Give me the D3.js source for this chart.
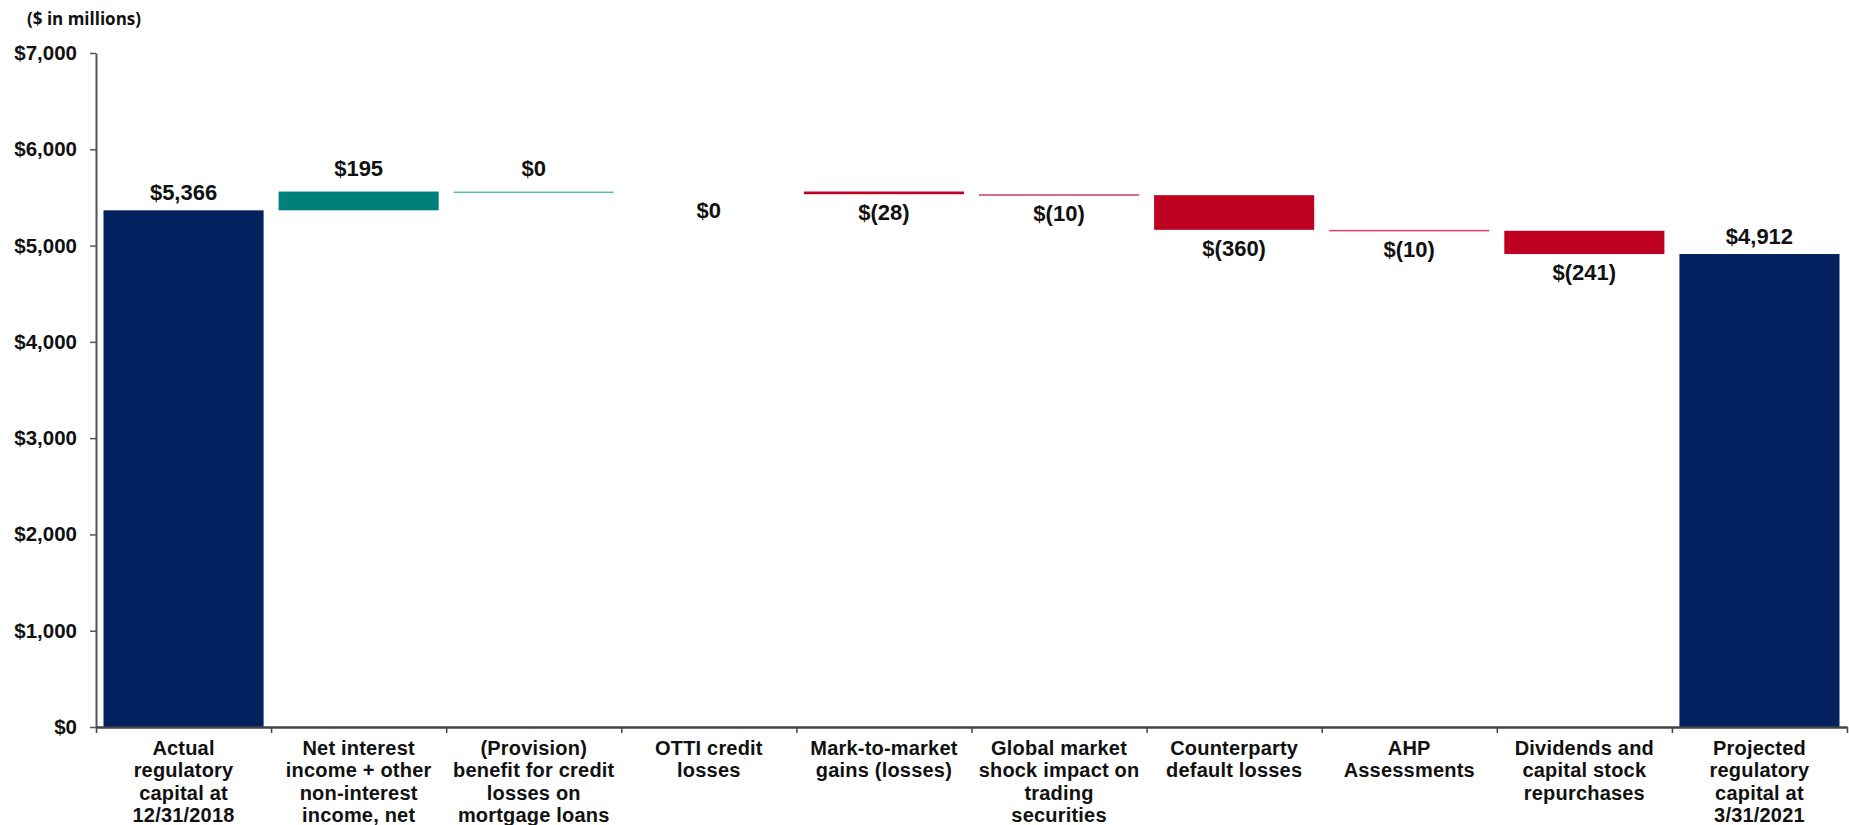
<!DOCTYPE html>
<html>
<head>
<meta charset="utf-8">
<script src="https://cdn.jsdelivr.net/npm/d3@7"></script>
<style>
  body { margin: 0; background: #fff; }
  text { font-family: "Liberation Sans", Arial, sans-serif; font-weight: bold; fill: #111; }
</style>
</head>
<body>
<div id="chart"></div>
<script>
// waterfall data ($ in millions)
var categories = [
    "Actual\nregulatory\ncapital at\n12/31/2018",
    "Net interest\nincome + other\nnon-interest\nincome, net",
    "(Provision)\nbenefit for credit\nlosses on\nmortgage loans",
    "OTTI credit\nlosses",
    "Mark-to-market\ngains (losses)",
    "Global market\nshock impact on\ntrading\nsecurities",
    "Counterparty\ndefault losses",
    "AHP\nAssessments",
    "Dividends and\ncapital stock\nrepurchases",
    "Projected\nregulatory\ncapital at\n3/31/2021"
];
var values = [5366, 195, 0.4, 0, -28, -10, -360, -10, -241, 4912];
var isTotal = [true, false, false, false, false, false, false, false, false, true];
var yTicks = [0, 1000, 2000, 3000, 4000, 5000, 6000, 7000];

var svgWidth = 1849;
var svgHeight = 825;

var svg = d3.select("#chart")
    .append("svg")
    .attr("width", svgWidth)
    .attr("height", svgHeight);

var x = d3.scaleBand()
    .domain(d3.range(categories.length))
    .range([96, 1847])
    .paddingInner(0.0857)
    .paddingOuter(0.0428);

var xEdges = d3.scaleLinear().domain([0, categories.length]).range([96, 1847]);

var y = d3.scaleLinear().domain([0, 7000]).range([727, 53]);

// running totals for the floating bars
var running = 0;
var bars = values.map(function (v, i) {
    var start, end;
    if (isTotal[i]) {
        start = 0; end = v; running = v;
    } else {
        start = running; end = running + v; running = end;
    }
    return { i: i, value: v, start: start, end: end, total: isTotal[i] };
});

function barColor(d) {
    if (d.total) return "#03215f";
    if (d.value > 0) return d.value < 1 ? "#5fbcb2" : "#00807a";
    return Math.abs(d.value) < 20 ? "#d44a66" : "#c00020";
}

svg.selectAll("rect.bar")
    .data(bars.filter(function (d) { return d.value !== 0; }))
    .enter()
    .append("rect")
    .attr("class", "bar")
    .attr("x", function (d) { return x(d.i); })
    .attr("width", x.bandwidth())
    .attr("y", function (d) { return y(Math.max(d.start, d.end)); })
    .attr("height", function (d) {
        return Math.max(Math.abs(y(d.start) - y(d.end)), 1.6);
    })
    .attr("fill", barColor);

// value labels
var fmt = d3.format(",.0f");
function labelText(v) {
    var r = Math.round(v);
    return r < 0 ? "$(" + fmt(-r) + ")" : "$" + fmt(r);
}

svg.selectAll("text.val")
    .data(bars)
    .enter()
    .append("text")
    .attr("class", "val")
    .attr("x", function (d) { return x(d.i) + x.bandwidth() / 2; })
    .attr("y", function (d) {
        if (d.value > 0) return y(Math.max(d.start, d.end)) - (d.total ? 10 : 16);
        return y(Math.min(d.start, d.end)) + 26;
    })
    .attr("text-anchor", "middle")
    .style("font-size", "22px")
    .text(function (d) { return labelText(d.value); });

// y axis
var yAxis = svg.append("g")
    .attr("transform", "translate(96,0)")
    .call(d3.axisLeft(y)
        .tickValues(yTicks)
        .tickFormat(function (d) { return "$" + d3.format(",")(d); })
        .tickSize(6)
        .tickPadding(13)
        .tickSizeOuter(0));
yAxis.select(".domain").attr("stroke", "#555").attr("stroke-width", 2);
yAxis.selectAll(".tick line").attr("stroke", "#555").attr("stroke-width", 1.5);
yAxis.selectAll(".tick text")
    .style("font-size", "20.5px")
    .style("font-family", "'Liberation Sans', Arial, sans-serif")
    .style("font-weight", "bold")
    .attr("fill", "#111");

// x axis with ticks on category edges
var xAxis = svg.append("g")
    .attr("transform", "translate(0,727)")
    .call(d3.axisBottom(xEdges)
        .tickValues(d3.range(categories.length + 1))
        .tickFormat("")
        .tickSize(6)
        .tickSizeOuter(0));
xAxis.select(".domain").attr("stroke", "#444").attr("stroke-width", 2.5);
xAxis.selectAll(".tick line").attr("stroke", "#444").attr("stroke-width", 1.5);

// category labels
var catLabels = svg.selectAll("text.cat")
    .data(categories)
    .enter()
    .append("text")
    .attr("class", "cat")
    .attr("text-anchor", "middle")
    .style("font-size", "20px")
    .style("letter-spacing", "0.2px");

catLabels.selectAll("tspan")
    .data(function (d, i) {
        return d.split("\n").map(function (line) { return { line: line, i: i }; });
    })
    .enter()
    .append("tspan")
    .attr("x", function (d) { return x(d.i) + x.bandwidth() / 2; })
    .attr("y", function (d, j) { return 755 + j * 22.4; })
    .text(function (d) { return d.line; });

svg.append("text")
    .attr("x", 27)
    .attr("y", 25)
    .style("font-family", "'Open Sans', sans-serif")
    .style("font-weight", "700")
    .style("font-size", "17px")
    .text("($ in millions)");
</script>
</body>
</html>
